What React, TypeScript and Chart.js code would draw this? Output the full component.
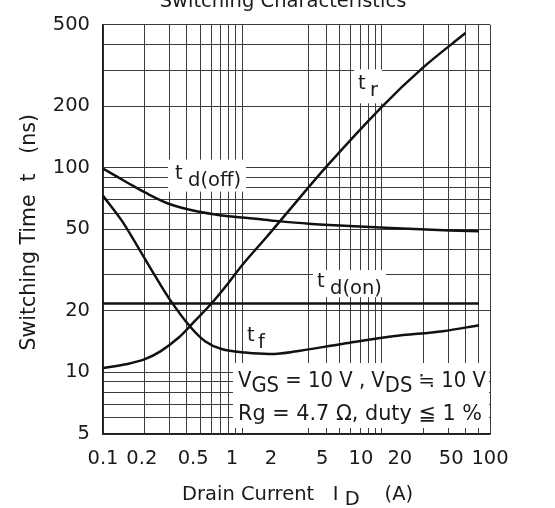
import React, { useEffect, useRef } from 'react';
import { Chart, registerables } from 'chart.js';

Chart.register(...registerables);

// ---------- data ----------
// Drain current I_D (A) vs switching time (ns)
const trX = [0.1, 0.15, 0.2, 0.26, 0.35, 0.42, 0.6, 0.8, 1, 1.5, 2, 4, 10, 20, 40];
const trY = [10.5, 11.0, 11.6, 12.7, 14.8, 16.8, 21.7, 27.5, 33.5, 46, 58, 101, 198, 310, 455];

const tdOffX = [0.1, 0.15, 0.2, 0.3, 0.46, 0.71, 1.05, 1.6, 3, 7, 19, 50];
const tdOffY = [99, 84.5, 75.7, 66.5, 61.4, 58.5, 57, 55.3, 53.3, 51.7, 50, 48.9];

const tdOnX = [0.1, 50];
const tdOnY = [21.7, 21.7];

const tfX = [0.1, 0.136, 0.18, 0.236, 0.31, 0.42, 0.54, 0.71, 1.05, 1.6, 2.3, 5.3, 12, 27.5, 50];
const tfY = [72.9, 55.3, 40.5, 29.7, 22.1, 16.8, 14.2, 13.0, 12.5, 12.3, 12.6, 13.8, 15.0, 15.9, 17.0];

// grid lines of the current axis (the line at 2 A is absent in the reference)
const xGridTicks = [0.1, 0.2, 0.3, 0.4, 0.5, 0.6, 0.7, 0.8, 0.9, 1, 2, 3, 4, 5, 6, 7, 8, 9, 10, 20, 30, 40, 50, 60];
const xHiddenGrid = [2];
// printed current labels
const xLabelValues = [0.1, 0.2, 0.5, 1, 2, 5, 10, 20, 50, 100];
const xLabelTexts = ['0.1', '0.2', '0.5', '1', '2', '5', '10', '20', '50', '100'];
// time axis
const yGridTicks = [5, 6, 7, 8, 9, 10, 20, 30, 40, 50, 60, 70, 80, 90, 100, 200, 300, 400, 500];
const yLabelValues = [5, 10, 20, 50, 100, 200, 500];

// ---------- text ----------
const TITLE = 'Switching Characteristics';
const Y_TITLE = 'Switching Time  t   (ns)';
const X_TITLE = [
  { t: 'Drain Current   I' },
  { t: ' D', sub: true },
  { t: '    (A)' },
];
const CURVE_LABELS = [
  { x: 0.329, y: 88.5, main: 't', sub: 'd(off)', subDx: 13, box: [-7, -19, 78, 32] },
  { x: 6.77, y: 241.6, main: 't', sub: 'r', subDx: 12, box: [-4, -20, 28, 34] },
  { x: 3.44, y: 26.1, main: 't', sub: 'd(on)', subDx: 13, box: [-4, -17, 73, 27] },
  { x: 1.08, y: 14.2, main: 't', sub: 'f', subDx: 11, box: [-3, -18, 24, 28] },
];
const COND_ANCHOR = { x: 0.931, y: 8.48 };
const COND_LINE1 = [
  { t: 'V' },
  { t: 'GS', sub: true },
  { t: ' = 10 V , V' },
  { t: 'DS', sub: true },
  { t: ' \u2252 10 V' },
];
const COND_LINE2 = [{ t: 'Rg = 4.7 \u03A9, duty \u2266 1 %' }];

// ---------- style ----------
const FONT = 'DejaVu Sans';
const TEXT = '#1a1a1a';
const GRID = '#3c3c3c';
const FRAME = '#1a1a1a';
const CURVE = '#111111';

type Seg = { t: string; sub?: boolean };

function drawRich(
  ctx: CanvasRenderingContext2D,
  segs: Seg[],
  x: number,
  y: number,
  subDy: number,
  targetWidth?: number
) {
  const total = segs.reduce((w, s) => w + ctx.measureText(s.t).width, 0);
  const sx = targetWidth ? targetWidth / total : 1;
  ctx.save();
  ctx.translate(x, y);
  ctx.scale(sx, 1);
  let cx = 0;
  for (const s of segs) {
    ctx.fillText(s.t, cx, s.sub ? subDy : 0);
    cx += ctx.measureText(s.t).width;
  }
  ctx.restore();
}

const near = (a: number, b: number) => Math.abs(a - b) < 1e-9 * Math.max(1, Math.abs(b));

const textPlugin = {
  id: 'richText',
  beforeDatasetsDraw(chart: any) {
    const { ctx, chartArea, scales } = chart;
    ctx.save();
    ctx.fillStyle = '#ffffff';
    for (const a of CURVE_LABELS) {
      const px = scales.x.getPixelForValue(a.x);
      const py = scales.y.getPixelForValue(a.y);
      ctx.fillRect(px + a.box[0], py + a.box[1], a.box[2], a.box[3]);
    }
    const cx = scales.x.getPixelForValue(COND_ANCHOR.x) - 5;
    const cy = scales.y.getPixelForValue(COND_ANCHOR.y) - 24;
    ctx.fillRect(cx, cy, chartArea.right - 1 - cx, chartArea.bottom - 6 - cy);
    ctx.restore();
  },
  afterDatasetsDraw(chart: any) {
    const { ctx, scales } = chart;
    ctx.save();
    ctx.fillStyle = TEXT;
    ctx.textBaseline = 'alphabetic';
    ctx.textAlign = 'left';
    ctx.font = `19.5px "${FONT}"`;
    for (const a of CURVE_LABELS) {
      const px = scales.x.getPixelForValue(a.x);
      const py = scales.y.getPixelForValue(a.y);
      ctx.fillText(a.main, px, py);
      ctx.fillText(a.sub, px + a.subDx, py + 7);
    }
    ctx.font = `20.5px "${FONT}"`;
    const cx = scales.x.getPixelForValue(COND_ANCHOR.x);
    const cy = scales.y.getPixelForValue(COND_ANCHOR.y);
    drawRich(ctx, COND_LINE1, cx, cy, 5, 248);
    drawRich(ctx, COND_LINE2, cx, cy + 33, 5, 244);
    ctx.restore();
  },
  afterDraw(chart: any) {
    const { ctx, chartArea } = chart;
    ctx.save();
    ctx.fillStyle = TEXT;
    ctx.textBaseline = 'alphabetic';
    // chart title (its upper part lies above the picture)
    ctx.font = `19.5px "${FONT}"`;
    ctx.textAlign = 'center';
    ctx.fillText(TITLE, 283, 7);
    // x title
    ctx.textAlign = 'left';
    drawRich(ctx, X_TITLE, chartArea.left + 79, chartArea.bottom + 66, 5);
    // y title
    ctx.font = `20.5px "${FONT}"`;
    ctx.translate(35, (chartArea.top + chartArea.bottom) / 2 + 3);
    ctx.rotate(-Math.PI / 2);
    ctx.textAlign = 'center';
    ctx.fillText(Y_TITLE, 0, 0);
    ctx.restore();
  },
};

function makeSet(xs: number[], ys: number[]) {
  return {
    data: xs.map((x, i) => ({ x, y: ys[i] })),
    showLine: true,
    borderColor: CURVE,
    borderWidth: 2.5,
    pointRadius: 0,
    tension: 0.35,
    xAxisID: 'x',
    yAxisID: 'y',
  };
}

export default function App() {
  const ref = useRef<HTMLCanvasElement>(null);
  useEffect(() => {
    const tickFont = { family: FONT, size: 19.5 };
    const chart = new Chart(ref.current as HTMLCanvasElement, {
      type: 'scatter',
      data: {
        datasets: [
          makeSet(trX, trY),
          makeSet(tdOffX, tdOffY),
          makeSet(tdOnX, tdOnY),
          makeSet(tfX, tfY),
        ],
      },
      options: {
        animation: false,
        responsive: true,
        maintainAspectRatio: false,
        layout: { padding: { top: 17, right: 65, left: 0, bottom: 0 } },
        plugins: {
          legend: { display: false },
          tooltip: { enabled: false },
          title: { display: false },
        },
        scales: {
          x: {
            type: 'logarithmic',
            position: 'bottom',
            min: 0.1,
            max: 60,
            weight: 0,
            afterBuildTicks: (s: any) => {
              s.ticks = xGridTicks.map((v) => ({ value: v }));
            },
            afterFit: (s: any) => {
              s.height = 0;
            },
            ticks: { display: false, autoSkip: false },
            grid: {
              drawTicks: false,
              lineWidth: 1,
              color: (c: any) =>
                xHiddenGrid.some((h) => near(c.tick?.value, h)) ? 'rgba(0,0,0,0)' : GRID,
            },
            border: { display: true, color: FRAME, width: 1.5 },
          },
          x2: {
            type: 'logarithmic',
            position: 'bottom',
            min: 0.1,
            max: 100,
            weight: 1,
            afterBuildTicks: (s: any) => {
              s.ticks = xLabelValues.map((v) => ({ value: v }));
            },
            afterFit: (s: any) => {
              s.height = 74;
            },
            ticks: {
              autoSkip: false,
              maxRotation: 0,
              padding: 13,
              color: TEXT,
              font: tickFont,
              callback: (v: any) => {
                const i = xLabelValues.findIndex((l) => near(Number(v), l));
                return i >= 0 ? xLabelTexts[i] : '';
              },
            },
            grid: { display: false, drawTicks: false },
            border: { display: false },
          },
          y: {
            type: 'logarithmic',
            position: 'left',
            min: 5,
            max: 500,
            afterBuildTicks: (s: any) => {
              s.ticks = yGridTicks.map((v) => ({ value: v }));
            },
            afterFit: (s: any) => {
              s.width = 103;
            },
            ticks: {
              autoSkip: false,
              padding: 13,
              color: TEXT,
              font: tickFont,
              callback: (v: any) => (yLabelValues.some((l) => near(Number(v), l)) ? String(v) : ''),
            },
            grid: { drawTicks: false, lineWidth: 1, color: GRID },
            border: { display: true, color: FRAME, width: 1.5 },
          },
        },
      } as any,
      plugins: [textPlugin],
    });
    return () => chart.destroy();
  }, []);
  return (
    <div style={{ position: 'absolute', left: 0, top: 0, width: 555, height: 508, background: '#fff' }}>
      <canvas ref={ref} />
    </div>
  );
}
